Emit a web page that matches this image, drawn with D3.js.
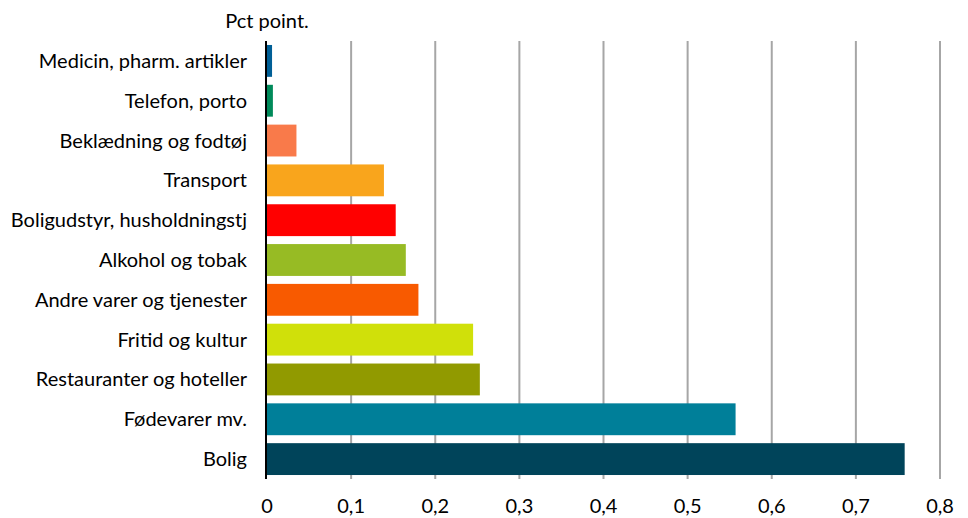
<!DOCTYPE html>
<html>
<head>
<meta charset="utf-8">
<script src="https://cdn.jsdelivr.net/npm/d3@7"></script>
<style>
  body { margin: 0; background: #fff; }
  text { font-family: Lato, "Open Sans", sans-serif; fill: #000; }
</style>
</head>
<body>
<svg id="svg" width="968" height="518"></svg>
<script>
var categories = ["Medicin, pharm. artikler", "Telefon, porto", "Beklædning og fodtøj", "Transport",
  "Boligudstyr, husholdningstj", "Alkohol og tobak", "Andre varer og tjenester", "Fritid og kultur",
  "Restauranter og hoteller", "Fødevarer mv.", "Bolig"];
var values = [0.006, 0.007, 0.035, 0.139, 0.153, 0.165, 0.180, 0.245, 0.253, 0.557, 0.758];
var colours = ["#005f96", "#008a5a", "#f97a4a", "#f9a51c", "#ff0000", "#97bb24", "#f85a00",
  "#d0e00a", "#919a00", "#007f99", "#00445a"];
var ticks = [0, 0.1, 0.2, 0.3, 0.4, 0.5, 0.6, 0.7, 0.8];
var unit = "Pct point.";

var svg = d3.select("svg");
var plotLeft = 267, plotRight = 940, plotTop = 41, plotBottom = 479;
var fs = "20px";

var x = d3.scaleLinear().domain([0, 0.8]).range([plotLeft, plotRight]);
var y = d3.scaleBand().domain(categories).range([plotTop, plotBottom]).paddingInner(0.2).paddingOuter(0.1);

// grid
svg.append("g").selectAll("line")
  .data(ticks.slice(1))
  .join("line")
  .attr("x1", d => x(d)).attr("x2", d => x(d))
  .attr("y1", plotTop).attr("y2", plotBottom)
  .attr("stroke", "#a6a6a6")
  .attr("stroke-width", 2);

// bars
svg.append("g").selectAll("rect")
  .data(categories)
  .join("rect")
  .attr("x", x(0))
  .attr("y", d => y(d))
  .attr("height", y.bandwidth())
  .attr("width", (d, i) => x(values[i]) - x(0))
  .attr("fill", (d, i) => colours[i]);

// zero axis
svg.append("line")
  .attr("x1", x(0) - 1).attr("x2", x(0) - 1)
  .attr("y1", plotTop).attr("y2", plotBottom)
  .attr("stroke", "#000")
  .attr("stroke-width", 2);

// category labels
svg.append("g").selectAll("text")
  .data(categories)
  .join("text")
  .attr("x", 247)
  .attr("y", d => y(d) + y.bandwidth() / 2)
  .attr("dy", "0.35em")
  .attr("text-anchor", "end")
  .style("font-size", fs)
  .text(d => d);

// tick labels
svg.append("g").selectAll("text")
  .data(ticks)
  .join("text")
  .attr("x", d => x(d))
  .attr("y", 513)
  .attr("text-anchor", "middle")
  .style("font-size", fs)
  .text(d => d3.format(".1~f")(d).replace(".", ","));

svg.append("text")
  .attr("x", x(0))
  .attr("y", 28)
  .attr("text-anchor", "middle")
  .style("font-size", fs)
  .text(unit);
</script>
</body>
</html>
